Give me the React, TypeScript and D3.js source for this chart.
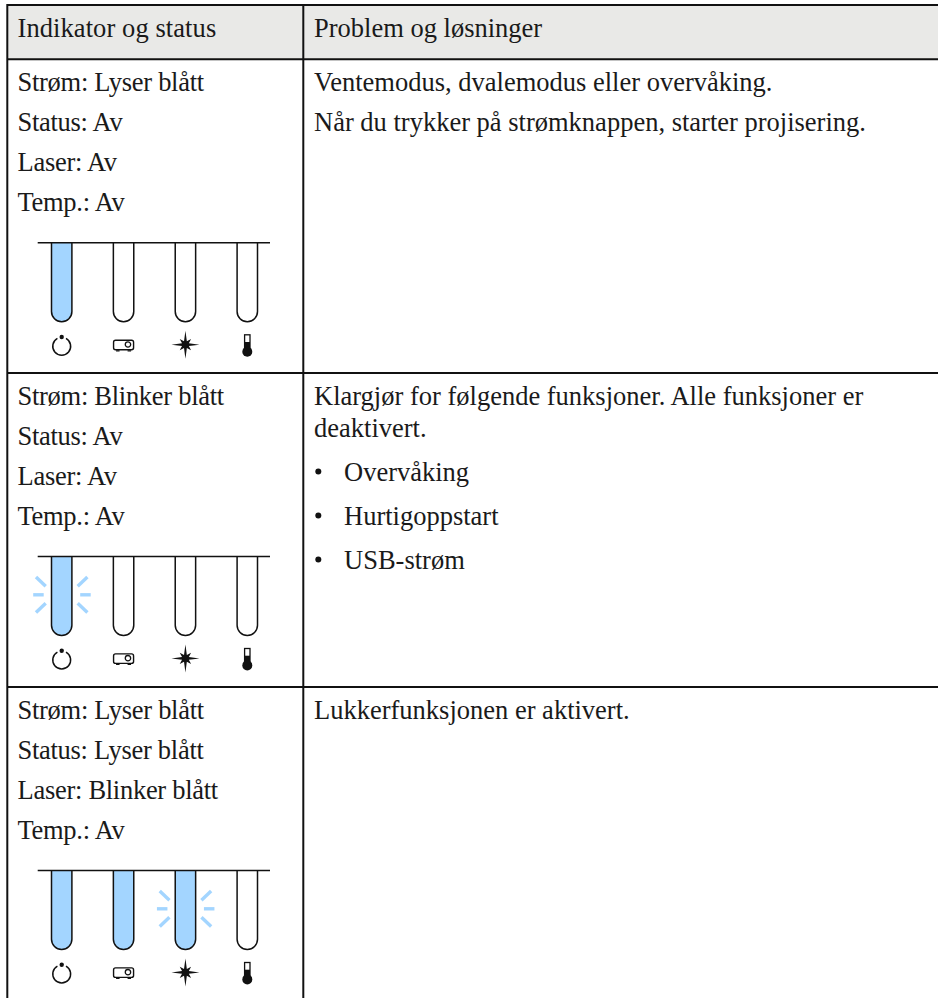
import React from "react";
import * as d3 from "d3";

const columnHeaders = ["Indikator og status", "Problem og løsninger"];
const statusLines = [
  ["Strøm: Lyser blått", "Status: Av", "Laser: Av", "Temp.: Av"],
  ["Strøm: Blinker blått", "Status: Av", "Laser: Av", "Temp.: Av"],
  ["Strøm: Lyser blått", "Status: Lyser blått", "Laser: Blinker blått", "Temp.: Av"],
];
const rowStates = [
  ["on", "off", "off", "off"],
  ["blink", "off", "off", "off"],
  ["on", "on", "blink", "off"],
];
const solutions = [
  [
    { t: "Ventemodus, dvalemodus eller overvåking.", gap: 0 },
    { t: "Når du trykker på strømknappen, starter projisering.", gap: 40 },
  ],
  [
    { t: "Klargjør for følgende funksjoner. Alle funksjoner er", gap: 0 },
    { t: "deaktivert.", gap: 32 },
    { t: "Overvåking", bullet: true, gap: 43.5 },
    { t: "Hurtigoppstart", bullet: true, gap: 44 },
    { t: "USB-strøm", bullet: true, gap: 44 },
  ],
  [{ t: "Lukkerfunksjonen er aktivert.", gap: 0 }],
];
const rowTops = [59.3, 373, 687];
const indicators = [0, 1, 2, 3];

const FONT = "'Liberation Serif', serif";
const BLUE = "#a3d5ff";
const INK = "#111";
const x0 = 7.3;
const xDiv = 303.3;
const xEnd = 938;
const top = 5;
const lineStep = 40;

const ledX = d3.scaleLinear().domain([0, 3]).range([61.7, 247.3]);

const starRadii = [14, 3.7, 8, 3.7];
const starPath = d3
  .lineRadial<number>()
  .angle((_, k) => (k * Math.PI) / 8)
  .radius((_, k) => starRadii[k % 4])
  .curve(d3.curveLinearClosed)(d3.range(16)) as string;

function Icon({ i, cx, cy }: { i: number; cx: number; cy: number }) {
  if (i === 0) {
    const arc = d3.arc()({ innerRadius: 8.2, outerRadius: 9.7, startAngle: 0.5, endAngle: Math.PI * 2 - 0.5 }) as string;
    return (
      <g transform={`translate(${cx},${cy})`}>
        <path d={arc} fill={INK} />
        <circle cx={0} cy={-9.3} r={2.2} fill={INK} />
      </g>
    );
  }
  if (i === 1) {
    return (
      <g transform={`translate(${cx},${cy - 0.8})`} fill="none" stroke={INK}>
        <rect x={-10} y={-5.3} width={20} height={9.5} rx={2} strokeWidth={1.4} />
        <circle cx={4.4} cy={-1} r={2.7} strokeWidth={1.3} />
        <path d="M-7.5,5.3h3.5M4,5.3h3.5" strokeWidth={1.2} />
      </g>
    );
  }
  if (i === 2) {
    return (
      <g transform={`translate(${cx},${cy - 1.6})`}>
        <path fill={INK} d={starPath} />
      </g>
    );
  }
  return (
    <g transform={`translate(${cx},${cy})`}>
      <rect x={-2.7} y={-11.5} width={5.4} height={14} fill="#fff" stroke={INK} strokeWidth={1.3} />
      <rect x={-2.7} y={-4.3} width={5.4} height={7} fill={INK} />
      <circle cx={0} cy={5.4} r={5} fill={INK} />
    </g>
  );
}

function Rays({ cx, cy }: { cx: number; cy: number }) {
  const rays = [
    [18.5, 0, 29, 0],
    [-18, 0, -28.5, 0],
    [16, -8.5, 25.7, -17.7],
    [-16, -8.5, -25.7, -17.7],
    [16, 8.5, 25.7, 17.7],
    [-16, 8.5, -25.7, 17.7],
  ];
  return (
    <g stroke={BLUE} strokeWidth={3.4}>
      {rays.map((r, k) => (
        <line key={k} x1={cx + r[0]} y1={cy + r[1]} x2={cx + r[2]} y2={cy + r[3]} />
      ))}
    </g>
  );
}

function Panel({ y, states }: { y: number; states: string[] }) {
  const r = 10.2;
  const h = 79;
  const tube = (cx: number) => `M${cx - r},${y}V${y + h - r}A${r},${r} 0 0 0 ${cx + r},${y + h - r}V${y}`;
  return (
    <g>
      {indicators.map((i) => {
        const cx = ledX(i);
        const s = states[i];
        return (
          <g key={i}>
            {s === "blink" && <Rays cx={cx} cy={y + 38.3} />}
            <path d={tube(cx)} fill={s === "off" ? "#fff" : BLUE} stroke={INK} strokeWidth={1.5} />
            <Icon i={i} cx={cx} cy={y + 103.5} />
          </g>
        );
      })}
      <line x1={37.7} x2={270} y1={y} y2={y} stroke={INK} strokeWidth={1.5} />
    </g>
  );
}

export default function App() {
  const textStyle = { fontFamily: FONT, fontSize: 26.5, fill: "#1a1a1a" } as const;
  return (
    <svg
      width={938}
      height={998}
      viewBox="0 0 938 998"
      style={{ position: "absolute", left: 0, top: 0, display: "block", background: "#fff" }}
    >
      <rect x={x0} y={top} width={xEnd - x0} height={54.3} fill="#e9e9e7" />
      <text x={17.5} y={37.3} letterSpacing={0.08} {...textStyle}>{columnHeaders[0]}</text>
      <text x={314} y={37.3} {...textStyle}>{columnHeaders[1]}</text>

      {rowTops.map((rt, r) => (
        <g key={r}>
          {statusLines[r].map((t, k) => (
            <text key={k} x={17.5} y={rt + 32 + k * lineStep} letterSpacing={-0.28} {...textStyle}>{t}</text>
          ))}
          <Panel y={rt + 183.5} states={rowStates[r]} />
          {(() => {
            let y = rt + 32;
            return solutions[r].map((s: any, k) => {
              y += s.gap;
              return (
                <g key={k}>
                  {s.bullet && <circle cx={318.3} cy={y - 9} r={3} fill={INK} />}
                  <text x={s.bullet ? 344 : 314} y={y} {...textStyle}>{s.t}</text>
                </g>
              );
            });
          })()}
        </g>
      ))}

      <g stroke={INK} strokeWidth={2} fill="none">
        <line x1={x0} x2={xEnd} y1={top} y2={top} />
        {rowTops.map((y) => (
          <line key={y} x1={x0} x2={xEnd} y1={y} y2={y} />
        ))}
        <line x1={x0} x2={x0} y1={top - 1} y2={998} />
        <line x1={xDiv} x2={xDiv} y1={top - 1} y2={998} />
      </g>
    </svg>
  );
}
